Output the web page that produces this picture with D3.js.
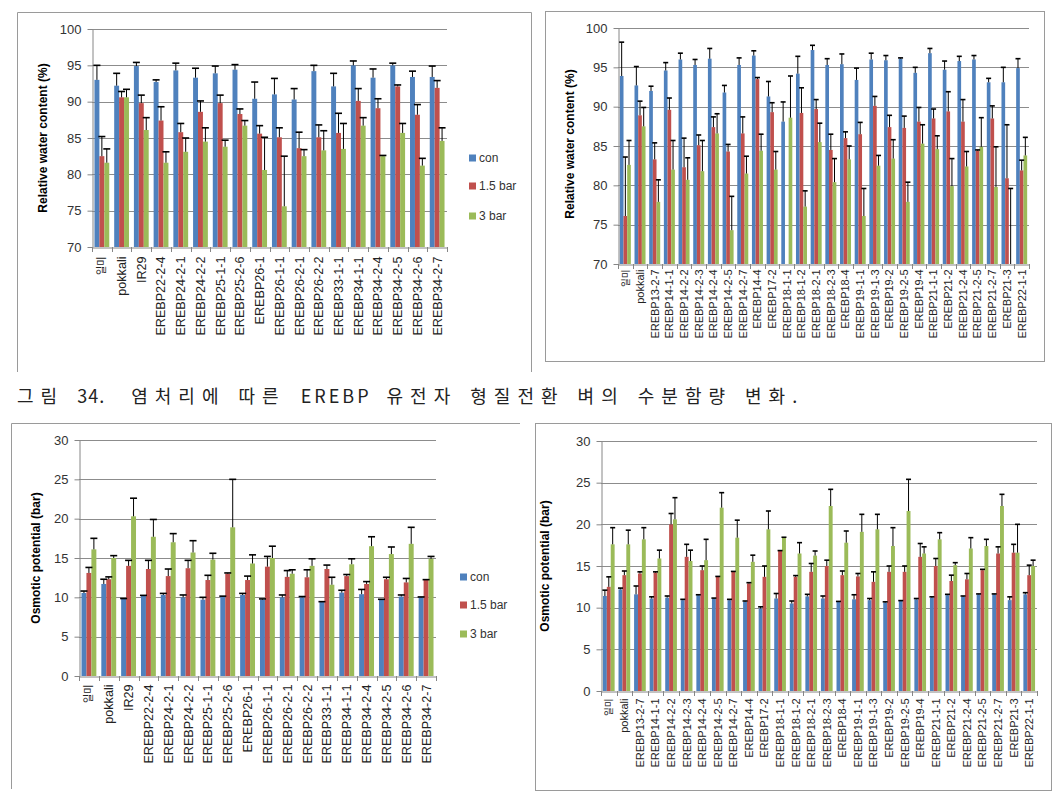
<!DOCTYPE html>
<html><head><meta charset="utf-8">
<script src="https://cdn.jsdelivr.net/npm/d3@7"></script>
<style>body{margin:0;background:#fff}svg{display:block}</style>
</head><body><svg id="c" width="1061" height="800"></svg>
<script>
const seriesNames = ["con", "1.5 bar", "3 bar"];
const seriesColors = ["#4F81BD", "#C0504D", "#9BBB59"];
const rwcTicks = [70, 75, 80, 85, 90, 95, 100];
const opTicks = [0, 5, 10, 15, 20, 25, 30];
const rwcTitle = "Relative water content (%)";
const opTitle = "Osmotic potential (bar)";
const captionText = "그림 34.  염처리에 따른 EREBP 유전자 형질전환 벼의 수분함량 변화.";

// Set A lines (left panels)
const catsA = ["일미","pokkali","IR29","EREBP22-2-4","EREBP24-2-1","EREBP24-2-2","EREBP25-1-1","EREBP25-2-6","EREBP26-1","EREBP26-1-1","EREBP26-2-1","EREBP26-2-2","EREBP33-1-1","EREBP34-1-1","EREBP34-2-4","EREBP34-2-5","EREBP34-2-6","EREBP34-2-7"];
// Set B lines (right panels)
const catsB = ["일미","pokkali","EREBP13-2-7","EREBP14-1-1","EREBP14-2-2","EREBP14-2-3","EREBP14-2-4","EREBP14-2-5","EREBP14-2-7","EREBP14-4","EREBP17-2","EREBP18-1-1","EREBP18-1-2","EREBP18-2-1","EREBP18-2-3","EREBP18-4","EREBP19-1-1","EREBP19-1-3","EREBP19-2","EREBP19-2-5","EREBP19-4","EREBP21-1-1","EREBP21-2","EREBP21-2-4","EREBP21-2-5","EREBP21-2-7","EREBP21-3","EREBP22-1-1"];

// Relative water content, set A
const rwcACon   = [93.0,92.2,94.9,92.7,94.3,93.3,93.9,94.4,90.4,91.0,90.3,94.2,92.1,95.0,93.3,95.0,93.4,93.4];
const rwcAConE  = [2.0,1.7,0.5,0.3,1.0,1.3,1.0,0.7,2.3,2.2,1.5,0.8,1.8,0.6,1.2,0.3,0.8,1.5];
const rwcA15    = [82.5,90.6,89.8,87.4,85.8,88.6,89.8,88.3,85.6,85.1,83.6,85.1,85.7,90.1,89.1,92.1,88.2,91.9];
const rwcA15E   = [2.7,0.8,1.1,1.9,1.2,1.5,1.1,0.7,1.1,1.3,2.2,1.7,2.7,1.7,1.3,0.2,1.4,1.0];
const rwcA3     = [81.6,90.6,86.1,81.6,83.1,84.5,83.8,86.7,80.6,75.6,82.5,83.3,83.5,86.7,82.5,85.7,81.2,84.6];
const rwcA3E    = [1.9,1.1,1.7,1.5,1.9,1.9,0.9,0.7,4.5,6.9,0.9,2.7,3.5,1.1,0.1,1.3,1.0,1.8];

// Relative water content, set B
const rwcBCon   = [93.9,92.7,92.0,94.6,96.0,95.3,96.1,91.8,95.3,96.5,91.3,88.1,94.2,97.2,95.3,95.4,93.4,96.0,95.9,96.1,94.3,96.8,94.7,95.8,96.0,93.1,93.1,94.9];
const rwcBConE  = [4.3,2.4,0.6,1.0,0.8,0.7,1.3,0.9,0.9,0.6,1.9,2.5,2.2,0.6,0.8,1.3,1.5,0.8,0.6,0.1,0.7,0.6,1.1,0.6,0.5,0.5,1.9,1.2];
const rwcB15    = [76.1,88.9,83.3,89.6,82.3,85.1,87.4,84.3,86.6,93.5,89.3,null,89.2,89.7,84.5,86.0,86.5,90.1,87.4,87.3,88.1,88.5,89.4,88.1,84.4,88.5,80.9,81.9];
const rwcB15E   = [7.5,1.8,2.1,1.5,3.7,1.3,1.3,0.9,2.1,0.2,1.2,null,3.2,1.2,2.0,0.8,1.5,1.2,1.5,1.5,1.8,1.2,2.5,2.8,0.1,1.6,6.8,1.3];
const rwcB3     = [82.6,87.5,77.9,82.0,80.7,81.8,86.6,74.3,81.5,84.4,82.0,88.6,77.3,85.5,80.4,83.3,76.1,82.5,83.4,77.9,85.3,84.6,79.9,82.4,84.9,79.8,70.0,83.8];
const rwcB3E    = [3.1,2.4,2.8,3.7,2.8,3.9,2.5,4.3,2.2,2.1,2.3,5.3,2.0,2.4,3.0,1.7,3.5,1.3,2.4,2.5,2.4,1.7,3.5,1.9,3.7,5.1,9.6,2.3];

// Osmotic potential, set A
const opACon    = [10.55,11.7,9.8,10.2,10.3,10.0,9.7,10.1,10.3,9.7,10.0,10.0,9.4,10.6,10.4,9.7,10.1,10.0];
const opAConE   = [0.25,0.6,0.05,0.05,0.2,0.3,0.3,0.05,0.2,0.1,0.3,0.1,0.05,0.3,0.6,0.05,0.2,0.05];
const opA15     = [13.1,12.3,14.0,13.6,12.7,13.7,12.2,13.0,12.2,13.9,12.6,12.55,13.6,12.7,11.7,12.3,11.9,12.2];
const opA15E    = [0.7,0.3,0.7,1.1,0.9,1.0,0.6,0.1,0.5,1.3,0.8,0.95,0.5,0.2,0.3,0.25,0.5,0.05];
const opA3      = [16.1,15.0,20.3,17.7,17.0,15.7,14.8,18.9,14.3,15.0,13.0,14.0,11.6,14.2,16.5,15.5,16.8,14.9];
const opA3E     = [1.4,0.3,2.3,2.2,1.1,1.5,0.8,6.1,1.1,1.5,0.5,0.9,0.95,0.7,1.2,0.9,2.1,0.3];

// Osmotic potential, set B
const opBCon    = [11.4,12.2,11.6,11.1,11.2,10.9,11.5,11.1,10.9,10.7,9.9,11.1,10.5,11.35,11.1,10.7,11.0,10.9,10.6,10.8,11.0,11.2,11.5,11.3,11.6,11.6,10.9,11.6];
const opBConE   = [0.7,0.15,1.0,0.2,0.2,0.1,0.05,0.05,0.1,0.1,0.2,0.6,0.3,0.25,0.3,0.05,0.55,0.2,0.1,0.05,0.1,0.1,0.1,0.1,0.05,0.05,0.4,0.2];
const opB15     = [12.5,13.9,14.1,14.2,20.0,16.1,14.5,13.7,14.3,12.9,13.7,16.8,13.7,14.3,15.0,13.9,13.75,13.1,14.3,14.3,16.1,15.0,13.2,13.4,14.5,16.5,16.6,13.9];
const opB15E    = [1.2,0.5,0.2,0.1,1.3,1.5,0.5,0.05,0.05,0.1,1.3,0.05,0.15,1.0,0.7,0.5,0.35,1.2,0.7,0.7,1.6,0.9,0.7,0.7,0.1,0.8,1.0,1.2];
const opB3      = [17.6,17.6,18.2,15.9,20.6,15.6,15.7,22.0,18.4,15.5,19.4,18.4,16.5,16.25,22.2,17.8,19.1,19.4,17.4,21.6,16.5,18.2,15.1,17.1,17.4,22.2,16.6,15.0];
const opB3E     = [2.0,1.7,1.4,1.0,2.6,1.3,2.5,1.8,2.1,0.8,2.2,0.05,1.3,0.55,2.0,1.4,2.1,1.8,2.2,3.8,0.8,0.8,0.3,1.3,0.8,1.4,3.4,0.7];

const svg = d3.select("#c");
const LATIN = "'Liberation Sans', Arial, 'Noto Sans CJK KR', sans-serif";

function panel(o) {
  const g = svg.append("g");
  const x = d3.scaleBand().domain(o.cats).range([o.x0, o.x1]).paddingInner(0).paddingOuter(0);
  const sub = d3.scaleBand().domain([0, 1, 2]).range([0, x.bandwidth()]).paddingInner(0).paddingOuter(0.5);
  const y = d3.scaleLinear().domain([o.ticks[0], o.ticks[o.ticks.length - 1]]).range([o.y1, o.y0]);
  const ymin = o.ticks[0];

  // gridlines
  g.append("g").selectAll("line").data(o.ticks.slice(1)).join("line")
    .attr("x1", o.x0).attr("x2", o.x1)
    .attr("y1", d => Math.round(y(d)) + 0.5).attr("y2", d => Math.round(y(d)) + 0.5)
    .attr("stroke", "#8c8c8c").attr("stroke-width", 1.2);

  // bars
  o.series.forEach((s, si) => {
    const gs = g.append("g");
    gs.selectAll("rect").data(s.values.map((v, i) => ({v, i})).filter(d => d.v != null)).join("rect")
      .attr("x", d => x(o.cats[d.i]) + sub(si))
      .attr("width", sub.bandwidth())
      .attr("y", d => y(Math.max(d.v, ymin)))
      .attr("height", d => y(ymin) - y(Math.max(d.v, ymin)))
      .attr("fill", seriesColors[si]);
  });

  // axes
  const yAxis = g.append("g").attr("transform", `translate(${o.x0 + 0.5},0)`)
    .call(d3.axisLeft(y).tickValues(o.ticks).tickSize(5).tickPadding(6).tickSizeOuter(0));
  yAxis.select(".domain").attr("stroke", "#868686");
  yAxis.selectAll(".tick line").attr("stroke", "#868686");
  yAxis.selectAll("text").attr("font-family", LATIN).attr("font-size", 13).attr("fill", "#333");

  const xAxis = g.append("g").attr("transform", `translate(0,${o.y1 + 0.5})`)
    .call(d3.axisBottom(x).tickSize(0).tickSizeOuter(0));
  xAxis.select(".domain").attr("stroke", "#868686");
  xAxis.selectAll("text")
    .attr("transform", "rotate(-90)")
    .attr("x", -o.gap).attr("y", 0).attr("dy", "0.35em")
    .attr("text-anchor", "end")
    .attr("font-family", LATIN)
    .attr("font-size", d => /[가-힣]/.test(d) ? o.krSize : o.labelSize)
    .attr("fill", "#222");
  // category separator ticks
  g.append("g").selectAll("line").data(d3.range(o.cats.length + 1)).join("line")
    .attr("x1", i => Math.round(o.x0 + i * x.step()) + 0.5)
    .attr("x2", i => Math.round(o.x0 + i * x.step()) + 0.5)
    .attr("y1", o.y1).attr("y2", o.y1 + 5)
    .attr("stroke", "#868686");

  // error bars
  o.series.forEach((s, si) => {
    const ge = g.append("g").attr("stroke", "#000");
    s.values.forEach((v, i) => {
      if (v == null || s.err[i] == null) return;
      const cx = x(o.cats[i]) + sub(si) + sub.bandwidth() / 2;
      const yb = y(Math.max(v, ymin));
      const yt = y(v + s.err[i]);
      ge.append("line").attr("x1", cx).attr("x2", cx).attr("y1", yb).attr("y2", yt).attr("stroke-width", 1);
      ge.append("line").attr("x1", cx - o.cap / 2).attr("x2", cx + o.cap / 2)
        .attr("y1", yt).attr("y2", yt).attr("stroke-width", 1.6);
    });
  });

  // y title
  g.append("text")
    .attr("transform", `translate(${o.tx},${o.ty}) rotate(-90)`)
    .attr("text-anchor", "middle").attr("dominant-baseline", "central")
    .attr("font-family", LATIN).attr("font-weight", "bold").attr("font-size", 12)
    .attr("fill", "#000").text(o.title);

  // legend
  if (o.legend) {
    const lg = g.append("g");
    seriesNames.forEach((n, i) => {
      lg.append("rect").attr("x", o.legend.x).attr("y", o.legend.ys[i] - 3.5)
        .attr("width", 7).attr("height", 7).attr("fill", seriesColors[i]);
      lg.append("text").attr("x", o.legend.x + 10).attr("y", o.legend.ys[i])
        .attr("dy", "0.35em").attr("font-family", LATIN).attr("font-size", 12)
        .attr("fill", "#333").text(n);
    });
  }
}

// panel frames
const frame = svg.append("g").attr("fill", "none").attr("stroke", "#9a9a9a").attr("stroke-width", 1);
frame.append("path").attr("d", "M17.5,372 V12.5 H531.5 V372");
frame.append("rect").attr("x", 545.5).attr("y", 11.5).attr("width", 499).attr("height", 350);
frame.append("path").attr("d", "M11.5,789 V423.5 H520");
frame.append("rect").attr("x", 535.5).attr("y", 423.5).attr("width", 516).attr("height", 367);

panel({
  cats: catsA, ticks: rwcTicks, x0: 92, x1: 447, y0: 29, y1: 247,
  series: [{values: rwcACon, err: rwcAConE}, {values: rwcA15, err: rwcA15E}, {values: rwcA3, err: rwcA3E}],
  gap: 9, labelSize: 12.6, krSize: 10, cap: 7,
  title: rwcTitle, tx: 43, ty: 138,
  legend: {x: 469, ys: [158, 186, 216]}
});
panel({
  cats: catsB, ticks: rwcTicks, x0: 618, x1: 1029, y0: 28, y1: 264,
  series: [{values: rwcBCon, err: rwcBConE}, {values: rwcB15, err: rwcB15E}, {values: rwcB3, err: rwcB3E}],
  gap: 5, labelSize: 11, krSize: 9.5, cap: 5,
  title: rwcTitle, tx: 570, ty: 144
});
panel({
  cats: catsA, ticks: opTicks, x0: 79, x1: 436, y0: 440, y1: 676,
  series: [{values: opACon, err: opAConE}, {values: opA15, err: opA15E}, {values: opA3, err: opA3E}],
  gap: 8, labelSize: 12.6, krSize: 10, cap: 7,
  title: opTitle, tx: 36, ty: 558,
  legend: {x: 460, ys: [577, 605, 634]}
});
panel({
  cats: catsB, ticks: opTicks, x0: 601, x1: 1037, y0: 441, y1: 691,
  series: [{values: opBCon, err: opBConE}, {values: opB15, err: opB15E}, {values: opB3, err: opB3E}],
  gap: 7, labelSize: 11, krSize: 9.5, cap: 5,
  title: opTitle, tx: 545, ty: 566
});

// caption: Hangul runs get wider tracking than Latin runs
const cap = svg.append("text").attr("x", 17).attr("y", 403)
  .attr("font-family", "'Noto Sans CJK KR', sans-serif").attr("font-size", 18)
  .attr("word-spacing", 8).attr("fill", "#222").style("white-space", "pre");
(captionText.match(/[가-힣]+|[^가-힣]+/g) || []).forEach(seg => {
  const isKr = /[가-힣]/.test(seg);
  cap.append("tspan").attr("letter-spacing", isKr ? 7 : (/[A-Z]/.test(seg) ? 3 : 1)).text(seg);
});
</script>
</body></html>
